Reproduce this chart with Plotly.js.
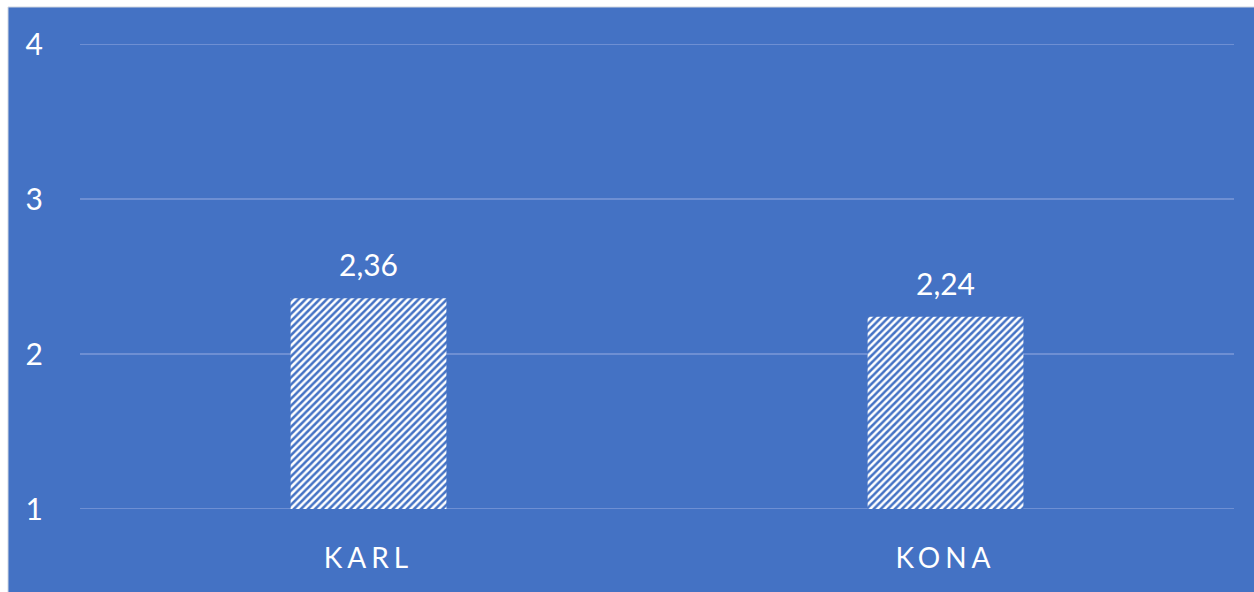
<!DOCTYPE html>
<html>
<head>
<meta charset="utf-8">
<script src="https://cdn.plot.ly/plotly-3.0.1.min.js"></script>
<style>
html,body{margin:0;padding:0;background:#fff;}
#chart{width:1254px;height:592px;}
.xtick text{letter-spacing:5px;}
</style>
</head>
<body>
<div id="chart"></div>
<script>
const categories = ["KARL", "KONA"];
const values = [2.36, 2.24];
const yTicks = [1, 2, 3, 4];
const yBase = 1;

const blue = "#4472C4";
const fam = "Lato, 'Open Sans', sans-serif";

const trace = {
  type: "bar",
  x: categories,
  y: values.map(v => v - yBase),
  base: yBase,
  width: 0.27,
  marker: {
    color: "#ffffff",
    line: {width: 0},
    pattern: {shape: "/", bgcolor: "#ffffff", fgcolor: blue, size: 5, solidity: 0.5, fillmode: "replace"}
  },
  hoverinfo: "skip"
};

const labelAnnotations = categories.map((c, i) => ({
  x: c, y: values[i], xref: "x", yref: "y",
  text: values[i].toFixed(2).replace(".", ","),
  showarrow: false, yanchor: "bottom", yshift: 14,
  font: {family: fam, color: "#ffffff", size: 30}
}));

const gridShapes = yTicks.map(t => ({
  type: "line", xref: "paper", yref: "y",
  x0: 0, x1: 1, y0: t, y1: t,
  line: {color: "#7d9ad8", width: 1.5},
  layer: "below"
}));

const layout = {
  width: 1254,
  height: 592,
  margin: {l: 80, r: 20, t: 44, b: 83, pad: 0},
  paper_bgcolor: "#ffffff",
  plot_bgcolor: "rgba(0,0,0,0)",
  font: {family: fam, color: "#ffffff", size: 30},
  separators: ",.",
  showlegend: false,
  xaxis: {
    type: "category",
    showgrid: false,
    zeroline: false,
    showline: false,
    ticks: "",
    tickfont: {family: fam, color: "#ffffff", size: 28},
    ticklabelstandoff: 30,
    fixedrange: true
  },
  yaxis: {
    range: [1, 4],
    tickvals: yTicks,
    ticktext: yTicks.map(String),
    showgrid: false,
    zeroline: false,
    showline: false,
    ticks: "",
    tickfont: {family: fam, color: "#ffffff", size: 30},
    ticklabelstandoff: 36,
    fixedrange: true
  },
  annotations: labelAnnotations,
  shapes: [{
    type: "rect",
    xref: "paper", yref: "paper",
    x0: (8 - 80) / 1154, x1: (1260 - 80) / 1154,
    y0: (509 - 600) / 465, y1: (509 - 7) / 465,
    fillcolor: blue,
    line: {color: "#d0d6e0", width: 1},
    layer: "below"
  }].concat(gridShapes)
};

Plotly.newPlot("chart", [trace], layout, {displayModeBar: false, staticPlot: true});
</script>
</body>
</html>
